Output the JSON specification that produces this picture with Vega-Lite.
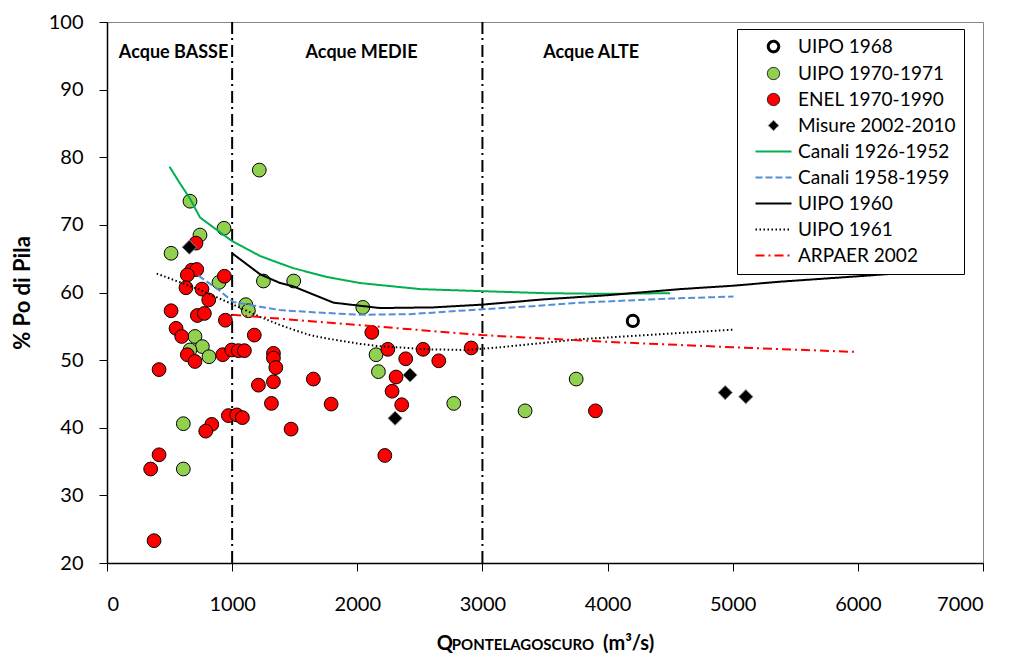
{
  "$schema": "https://vega.github.io/schema/vega-lite/v6.json",
  "width": 876,
  "height": 541,
  "autosize": "none",
  "padding": {"left": 107, "top": 22, "right": 27, "bottom": 96},
  "background": "white",
  "config": {
    "font": "Lato",
    "view": {"stroke": "#868686", "strokeWidth": 1},
    "axis": {
      "grid": false,
      "domainColor": "black",
      "domainWidth": 1.5,
      "tickColor": "black",
      "tickWidth": 1,
      "tickSize": 8,
      "labelColor": "black",
      "labelFont": "Lato",
      "labelFontSize": 20,
      "titleColor": "black",
      "titleFont": "Lato",
      "titleFontWeight": "bold"
    }
  },
  "title": {
    "text": "PONTELAGOSCURO",
    "orient": "bottom",
    "anchor": "middle",
    "font": "Lato",
    "fontSize": 15,
    "fontWeight": "bold",
    "color": "black",
    "offset": -15,
    "dx": -22
  },
  "datasets": {
    "regions": [{"q": 1000}, {"q": 3000}],
    "labels": [
      {"label": "Acque BASSE", "q": 532, "pct": 95.4},
      {"label": "Acque MEDIE", "q": 2034, "pct": 95.4},
      {"label": "Acque ALTE", "q": 3869, "pct": 95.4}
    ],
    "points": [
      {"series": "UIPO 1968", "q": 4202, "pct": 55.8},
      {"series": "UIPO 1970-1971", "q": 1217, "pct": 78.1},
      {"series": "UIPO 1970-1971", "q": 663, "pct": 73.5},
      {"series": "UIPO 1970-1971", "q": 935, "pct": 69.5},
      {"series": "UIPO 1970-1971", "q": 743, "pct": 68.5},
      {"series": "UIPO 1970-1971", "q": 512, "pct": 65.8},
      {"series": "UIPO 1970-1971", "q": 1250, "pct": 61.7},
      {"series": "UIPO 1970-1971", "q": 1492, "pct": 61.7},
      {"series": "UIPO 1970-1971", "q": 895, "pct": 61.5},
      {"series": "UIPO 1970-1971", "q": 1109, "pct": 58.2},
      {"series": "UIPO 1970-1971", "q": 1130, "pct": 57.3},
      {"series": "UIPO 1970-1971", "q": 2044, "pct": 57.8},
      {"series": "UIPO 1970-1971", "q": 703, "pct": 53.5},
      {"series": "UIPO 1970-1971", "q": 762, "pct": 52.0},
      {"series": "UIPO 1970-1971", "q": 663, "pct": 51.5},
      {"series": "UIPO 1970-1971", "q": 815, "pct": 50.5},
      {"series": "UIPO 1970-1971", "q": 610, "pct": 40.6},
      {"series": "UIPO 1970-1971", "q": 610, "pct": 33.9},
      {"series": "UIPO 1970-1971", "q": 2150, "pct": 50.8},
      {"series": "UIPO 1970-1971", "q": 2169, "pct": 48.3},
      {"series": "UIPO 1970-1971", "q": 2771, "pct": 43.6},
      {"series": "UIPO 1970-1971", "q": 3749, "pct": 47.2},
      {"series": "UIPO 1970-1971", "q": 3341, "pct": 42.5},
      {"series": "ENEL 1970-1990", "q": 711, "pct": 67.3},
      {"series": "ENEL 1970-1990", "q": 677, "pct": 63.3},
      {"series": "ENEL 1970-1990", "q": 717, "pct": 63.4},
      {"series": "ENEL 1970-1990", "q": 642, "pct": 62.6},
      {"series": "ENEL 1970-1990", "q": 938, "pct": 62.4},
      {"series": "ENEL 1970-1990", "q": 631, "pct": 60.7},
      {"series": "ENEL 1970-1990", "q": 759, "pct": 60.5},
      {"series": "ENEL 1970-1990", "q": 813, "pct": 58.9},
      {"series": "ENEL 1970-1990", "q": 512, "pct": 57.3},
      {"series": "ENEL 1970-1990", "q": 722, "pct": 56.6},
      {"series": "ENEL 1970-1990", "q": 778, "pct": 56.9},
      {"series": "ENEL 1970-1990", "q": 946, "pct": 55.9},
      {"series": "ENEL 1970-1990", "q": 1177, "pct": 53.7},
      {"series": "ENEL 1970-1990", "q": 552, "pct": 54.7},
      {"series": "ENEL 1970-1990", "q": 597, "pct": 53.5},
      {"series": "ENEL 1970-1990", "q": 642, "pct": 50.8},
      {"series": "ENEL 1970-1990", "q": 703, "pct": 49.8},
      {"series": "ENEL 1970-1990", "q": 925, "pct": 50.8},
      {"series": "ENEL 1970-1990", "q": 997, "pct": 51.5},
      {"series": "ENEL 1970-1990", "q": 1050, "pct": 51.4},
      {"series": "ENEL 1970-1990", "q": 1098, "pct": 51.4},
      {"series": "ENEL 1970-1990", "q": 1330, "pct": 51.0},
      {"series": "ENEL 1970-1990", "q": 1330, "pct": 50.3},
      {"series": "ENEL 1970-1990", "q": 1349, "pct": 48.9},
      {"series": "ENEL 1970-1990", "q": 1330, "pct": 46.8},
      {"series": "ENEL 1970-1990", "q": 1210, "pct": 46.3},
      {"series": "ENEL 1970-1990", "q": 1314, "pct": 43.6},
      {"series": "ENEL 1970-1990", "q": 1649, "pct": 47.2},
      {"series": "ENEL 1970-1990", "q": 1791, "pct": 43.5},
      {"series": "ENEL 1970-1990", "q": 1471, "pct": 39.8},
      {"series": "ENEL 1970-1990", "q": 2116, "pct": 54.1},
      {"series": "ENEL 1970-1990", "q": 2244, "pct": 51.6},
      {"series": "ENEL 1970-1990", "q": 2387, "pct": 50.2},
      {"series": "ENEL 1970-1990", "q": 2526, "pct": 51.6},
      {"series": "ENEL 1970-1990", "q": 2651, "pct": 49.9},
      {"series": "ENEL 1970-1990", "q": 2910, "pct": 51.8},
      {"series": "ENEL 1970-1990", "q": 2310, "pct": 47.5},
      {"series": "ENEL 1970-1990", "q": 2278, "pct": 45.4},
      {"series": "ENEL 1970-1990", "q": 2355, "pct": 43.4},
      {"series": "ENEL 1970-1990", "q": 2220, "pct": 35.9},
      {"series": "ENEL 1970-1990", "q": 416, "pct": 48.6},
      {"series": "ENEL 1970-1990", "q": 970, "pct": 41.8},
      {"series": "ENEL 1970-1990", "q": 1037, "pct": 41.9},
      {"series": "ENEL 1970-1990", "q": 1082, "pct": 41.5},
      {"series": "ENEL 1970-1990", "q": 837, "pct": 40.5},
      {"series": "ENEL 1970-1990", "q": 789, "pct": 39.5},
      {"series": "ENEL 1970-1990", "q": 416, "pct": 36.0},
      {"series": "ENEL 1970-1990", "q": 349, "pct": 33.9},
      {"series": "ENEL 1970-1990", "q": 376, "pct": 23.3},
      {"series": "ENEL 1970-1990", "q": 3903, "pct": 42.5},
      {"series": "Misure 2002-2010", "q": 658, "pct": 66.7},
      {"series": "Misure 2002-2010", "q": 2422, "pct": 47.8},
      {"series": "Misure 2002-2010", "q": 2302, "pct": 41.4},
      {"series": "Misure 2002-2010", "q": 4940, "pct": 45.2},
      {"series": "Misure 2002-2010", "q": 5105, "pct": 44.6}
    ],
    "lines": [
      {"series": "Canali 1926-1952", "q": 500, "pct": 78.6},
      {"series": "Canali 1926-1952", "q": 584, "pct": 76.1},
      {"series": "Canali 1926-1952", "q": 663, "pct": 73.9},
      {"series": "Canali 1926-1952", "q": 743, "pct": 71.1},
      {"series": "Canali 1926-1952", "q": 823, "pct": 70.0},
      {"series": "Canali 1926-1952", "q": 1000, "pct": 67.6},
      {"series": "Canali 1926-1952", "q": 1223, "pct": 65.4},
      {"series": "Canali 1926-1952", "q": 1383, "pct": 64.3},
      {"series": "Canali 1926-1952", "q": 1489, "pct": 63.6},
      {"series": "Canali 1926-1952", "q": 1756, "pct": 62.3},
      {"series": "Canali 1926-1952", "q": 2022, "pct": 61.4},
      {"series": "Canali 1926-1952", "q": 2502, "pct": 60.5},
      {"series": "Canali 1926-1952", "q": 2995, "pct": 60.2},
      {"series": "Canali 1926-1952", "q": 3500, "pct": 59.9},
      {"series": "Canali 1926-1952", "q": 4000, "pct": 59.8},
      {"series": "Canali 1926-1952", "q": 4500, "pct": 59.9},
      {"series": "Canali 1958-1959", "q": 730, "pct": 62.5},
      {"series": "Canali 1958-1959", "q": 877, "pct": 60.6},
      {"series": "Canali 1958-1959", "q": 1010, "pct": 58.6},
      {"series": "Canali 1958-1959", "q": 1223, "pct": 57.9},
      {"series": "Canali 1958-1959", "q": 1383, "pct": 57.4},
      {"series": "Canali 1958-1959", "q": 1623, "pct": 57.1},
      {"series": "Canali 1958-1959", "q": 2022, "pct": 56.7},
      {"series": "Canali 1958-1959", "q": 2422, "pct": 56.8},
      {"series": "Canali 1958-1959", "q": 2982, "pct": 57.5},
      {"series": "Canali 1958-1959", "q": 3500, "pct": 58.1},
      {"series": "Canali 1958-1959", "q": 3781, "pct": 58.5},
      {"series": "Canali 1958-1959", "q": 4500, "pct": 59.1},
      {"series": "Canali 1958-1959", "q": 5006, "pct": 59.4},
      {"series": "UIPO 1960", "q": 1000, "pct": 65.8},
      {"series": "UIPO 1960", "q": 1223, "pct": 62.7},
      {"series": "UIPO 1960", "q": 1383, "pct": 61.4},
      {"series": "UIPO 1960", "q": 1489, "pct": 60.9},
      {"series": "UIPO 1960", "q": 1809, "pct": 58.5},
      {"series": "UIPO 1960", "q": 2182, "pct": 57.7},
      {"series": "UIPO 1960", "q": 2608, "pct": 57.8},
      {"series": "UIPO 1960", "q": 2995, "pct": 58.2},
      {"series": "UIPO 1960", "q": 3500, "pct": 59.0},
      {"series": "UIPO 1960", "q": 4000, "pct": 59.6},
      {"series": "UIPO 1960", "q": 4580, "pct": 60.5},
      {"series": "UIPO 1960", "q": 5000, "pct": 61.0},
      {"series": "UIPO 1960", "q": 5380, "pct": 61.6},
      {"series": "UIPO 1960", "q": 6000, "pct": 62.4},
      {"series": "UIPO 1960", "q": 6600, "pct": 63.2},
      {"series": "UIPO 1961", "q": 397, "pct": 62.8},
      {"series": "UIPO 1961", "q": 743, "pct": 60.4},
      {"series": "UIPO 1961", "q": 1010, "pct": 58.2},
      {"series": "UIPO 1961", "q": 1223, "pct": 56.4},
      {"series": "UIPO 1961", "q": 1383, "pct": 55.2},
      {"series": "UIPO 1961", "q": 1489, "pct": 54.5},
      {"series": "UIPO 1961", "q": 1623, "pct": 53.7},
      {"series": "UIPO 1961", "q": 1756, "pct": 53.2},
      {"series": "UIPO 1961", "q": 2022, "pct": 52.4},
      {"series": "UIPO 1961", "q": 2156, "pct": 52.1},
      {"series": "UIPO 1961", "q": 2556, "pct": 51.6},
      {"series": "UIPO 1961", "q": 2876, "pct": 51.5},
      {"series": "UIPO 1961", "q": 3141, "pct": 51.9},
      {"series": "UIPO 1961", "q": 3781, "pct": 53.1},
      {"series": "UIPO 1961", "q": 5006, "pct": 54.5},
      {"series": "ARPAER 2002", "q": 1000, "pct": 56.7},
      {"series": "ARPAER 2002", "q": 2000, "pct": 55.2},
      {"series": "ARPAER 2002", "q": 3000, "pct": 53.7},
      {"series": "ARPAER 2002", "q": 4000, "pct": 52.7},
      {"series": "ARPAER 2002", "q": 5000, "pct": 51.9},
      {"series": "ARPAER 2002", "q": 6000, "pct": 51.2}
    ]
  },
  "encoding": {
    "x": {
      "field": "q",
      "type": "quantitative",
      "scale": {"domain": [0, 7000], "nice": false},
      "axis": {
        "values": [0, 1000, 2000, 3000, 4000, 5000, 6000, 7000],
        "format": "d",
        "labelPadding": 23,
        "title": "Q\u2003\u2003\u2003\u2003\u2003\u2003\u2003\u2003\u2003\u2003(m³/s)",
        "titleFontSize": 20,
        "titlePadding": 19
      }
    }
  },
  "layer": [
    {
      "data": {"name": "regions"},
      "mark": {"type": "rule", "color": "black", "strokeWidth": 2, "strokeDash": [12, 4, 2, 5]},
      "encoding": {}
    },
    {
      "data": {"name": "points"},
      "mark": {"type": "point", "filled": true, "opacity": 1},
      "encoding": {
        "y": {
          "field": "pct",
          "type": "quantitative",
          "scale": {"domain": [20, 100], "nice": false},
          "axis": {
            "values": [20, 30, 40, 50, 60, 70, 80, 90, 100],
            "labelPadding": 16,
            "title": "% Po di Pila",
            "titleFontSize": 22,
            "titlePadding": 14
          }
        },
        "fill": {
          "field": "series",
          "type": "nominal",
          "scale": {
            "domain": ["UIPO 1968", "UIPO 1970-1971", "ENEL 1970-1990", "Misure 2002-2010", "Canali 1926-1952", "Canali 1958-1959", "UIPO 1960", "UIPO 1961", "ARPAER 2002"],
            "range": ["#ffffff", "#92D050", "#FF0000", "#000000", "#ffffff", "#ffffff", "#ffffff", "#ffffff", "#ffffff"]
          },
          "legend": {
            "title": null, "orient": "none", "legendX": 630, "legendY": 7, "direction": "vertical",
            "padding": 8, "rowPadding": 6, "strokeColor": "black", "fillColor": "white",
            "labelFont": "Lato", "labelFontSize": 19, "labelColor": "black", "labelOffset": 15, "symbolOffset": 19, "labelLimit": 300,
            "symbolOpacity": 1,
            "symbolSize": {"expr": "indexof(['Canali 1926-1952','Canali 1958-1959','UIPO 1960','UIPO 1961','ARPAER 2002'], datum.value) >= 0 ? 1296 : (datum.value === 'UIPO 1970-1971' || datum.value === 'ENEL 1970-1990' ? 150 : 110)"},
            "symbolStrokeWidth": {"expr": "datum.value === 'UIPO 1968' ? 3 : (indexof(['Canali 1926-1952','Canali 1958-1959','UIPO 1960','UIPO 1961','ARPAER 2002'], datum.value) >= 0 ? 2 : 1)"}
          }
        },
        "stroke": {
          "field": "series",
          "type": "nominal",
          "scale": {
            "domain": ["UIPO 1968", "UIPO 1970-1971", "ENEL 1970-1990", "Misure 2002-2010", "Canali 1926-1952", "Canali 1958-1959", "UIPO 1960", "UIPO 1961", "ARPAER 2002"],
            "range": ["#000000", "#000000", "#000000", "#8c8c8c", "#00B050", "#558ED5", "#000000", "#000000", "#FF0000"]
          },
          "legend": {
            "title": null, "orient": "none", "legendX": 630, "legendY": 7, "direction": "vertical",
            "padding": 8, "rowPadding": 6, "strokeColor": "black", "fillColor": "white",
            "labelFont": "Lato", "labelFontSize": 19, "labelColor": "black", "labelOffset": 15, "symbolOffset": 19, "labelLimit": 300,
            "symbolOpacity": 1,
            "symbolSize": {"expr": "indexof(['Canali 1926-1952','Canali 1958-1959','UIPO 1960','UIPO 1961','ARPAER 2002'], datum.value) >= 0 ? 1296 : (datum.value === 'UIPO 1970-1971' || datum.value === 'ENEL 1970-1990' ? 150 : 110)"},
            "symbolStrokeWidth": {"expr": "datum.value === 'UIPO 1968' ? 3 : (indexof(['Canali 1926-1952','Canali 1958-1959','UIPO 1960','UIPO 1961','ARPAER 2002'], datum.value) >= 0 ? 2 : 1)"}
          }
        },
        "shape": {
          "field": "series",
          "type": "nominal",
          "scale": {
            "domain": ["UIPO 1968", "UIPO 1970-1971", "ENEL 1970-1990", "Misure 2002-2010", "Canali 1926-1952", "Canali 1958-1959", "UIPO 1960", "UIPO 1961", "ARPAER 2002"],
            "range": ["circle", "circle", "circle", "diamond", "stroke", "stroke", "stroke", "stroke", "stroke"]
          },
          "legend": {
            "title": null, "orient": "none", "legendX": 630, "legendY": 7, "direction": "vertical",
            "padding": 8, "rowPadding": 6, "strokeColor": "black", "fillColor": "white",
            "labelFont": "Lato", "labelFontSize": 19, "labelColor": "black", "labelOffset": 15, "symbolOffset": 19, "labelLimit": 300,
            "symbolOpacity": 1,
            "symbolSize": {"expr": "indexof(['Canali 1926-1952','Canali 1958-1959','UIPO 1960','UIPO 1961','ARPAER 2002'], datum.value) >= 0 ? 1296 : (datum.value === 'UIPO 1970-1971' || datum.value === 'ENEL 1970-1990' ? 150 : 110)"},
            "symbolStrokeWidth": {"expr": "datum.value === 'UIPO 1968' ? 3 : (indexof(['Canali 1926-1952','Canali 1958-1959','UIPO 1960','UIPO 1961','ARPAER 2002'], datum.value) >= 0 ? 2 : 1)"}
          }
        },
        "size": {
          "condition": [
            {"test": "datum.series === 'UIPO 1968'", "value": 125},
            {"test": "datum.series === 'Misure 2002-2010'", "value": 200}
          ],
          "value": 190
        },
        "strokeWidth": {
          "condition": {"test": "datum.series === 'UIPO 1968'", "value": 3},
          "value": 1
        }
      }
    },
    {
      "data": {"name": "lines"},
      "mark": {"type": "line", "strokeWidth": 2},
      "encoding": {
        "y": {
          "field": "pct",
          "type": "quantitative",
          "scale": {"domain": [20, 100], "nice": false},
          "axis": {
            "values": [20, 30, 40, 50, 60, 70, 80, 90, 100],
            "labelPadding": 16,
            "title": "% Po di Pila",
            "titleFontSize": 22,
            "titlePadding": 14
          }
        },
        "stroke": {
          "field": "series",
          "type": "nominal",
          "scale": {
            "domain": ["UIPO 1968", "UIPO 1970-1971", "ENEL 1970-1990", "Misure 2002-2010", "Canali 1926-1952", "Canali 1958-1959", "UIPO 1960", "UIPO 1961", "ARPAER 2002"],
            "range": ["#000000", "#000000", "#000000", "#8c8c8c", "#00B050", "#558ED5", "#000000", "#000000", "#FF0000"]
          },
          "legend": {
            "title": null, "orient": "none", "legendX": 630, "legendY": 7, "direction": "vertical",
            "padding": 8, "rowPadding": 6, "strokeColor": "black", "fillColor": "white",
            "labelFont": "Lato", "labelFontSize": 19, "labelColor": "black", "labelOffset": 15, "symbolOffset": 19, "labelLimit": 300,
            "symbolOpacity": 1,
            "symbolSize": {"expr": "indexof(['Canali 1926-1952','Canali 1958-1959','UIPO 1960','UIPO 1961','ARPAER 2002'], datum.value) >= 0 ? 1296 : (datum.value === 'UIPO 1970-1971' || datum.value === 'ENEL 1970-1990' ? 150 : 110)"},
            "symbolStrokeWidth": {"expr": "datum.value === 'UIPO 1968' ? 3 : (indexof(['Canali 1926-1952','Canali 1958-1959','UIPO 1960','UIPO 1961','ARPAER 2002'], datum.value) >= 0 ? 2 : 1)"}
          }
        },
        "strokeDash": {
          "field": "series",
          "type": "nominal",
          "scale": {
            "domain": ["UIPO 1968", "UIPO 1970-1971", "ENEL 1970-1990", "Misure 2002-2010", "Canali 1926-1952", "Canali 1958-1959", "UIPO 1960", "UIPO 1961", "ARPAER 2002"],
            "range": [[1, 0], [1, 0], [1, 0], [1, 0], [1, 0], [7, 3], [1, 0], [1.5, 2.5], [9, 4, 2, 4]]
          },
          "legend": {
            "title": null, "orient": "none", "legendX": 630, "legendY": 7, "direction": "vertical",
            "padding": 8, "rowPadding": 6, "strokeColor": "black", "fillColor": "white",
            "labelFont": "Lato", "labelFontSize": 19, "labelColor": "black", "labelOffset": 15, "symbolOffset": 19, "labelLimit": 300,
            "symbolOpacity": 1,
            "symbolSize": {"expr": "indexof(['Canali 1926-1952','Canali 1958-1959','UIPO 1960','UIPO 1961','ARPAER 2002'], datum.value) >= 0 ? 1296 : (datum.value === 'UIPO 1970-1971' || datum.value === 'ENEL 1970-1990' ? 150 : 110)"},
            "symbolStrokeWidth": {"expr": "datum.value === 'UIPO 1968' ? 3 : (indexof(['Canali 1926-1952','Canali 1958-1959','UIPO 1960','UIPO 1961','ARPAER 2002'], datum.value) >= 0 ? 2 : 1)"}
          }
        }
      }
    },
    {
      "data": {"name": "labels"},
      "mark": {"type": "text", "font": "Lato", "fontSize": 18, "fontWeight": "bold", "color": "black"},
      "encoding": {
        "y": {
          "field": "pct",
          "type": "quantitative",
          "scale": {"domain": [20, 100], "nice": false},
          "axis": {
            "values": [20, 30, 40, 50, 60, 70, 80, 90, 100],
            "labelPadding": 16,
            "title": "% Po di Pila",
            "titleFontSize": 22,
            "titlePadding": 14
          }
        },
        "text": {"field": "label", "type": "nominal"}
      }
    }
  ]
}
